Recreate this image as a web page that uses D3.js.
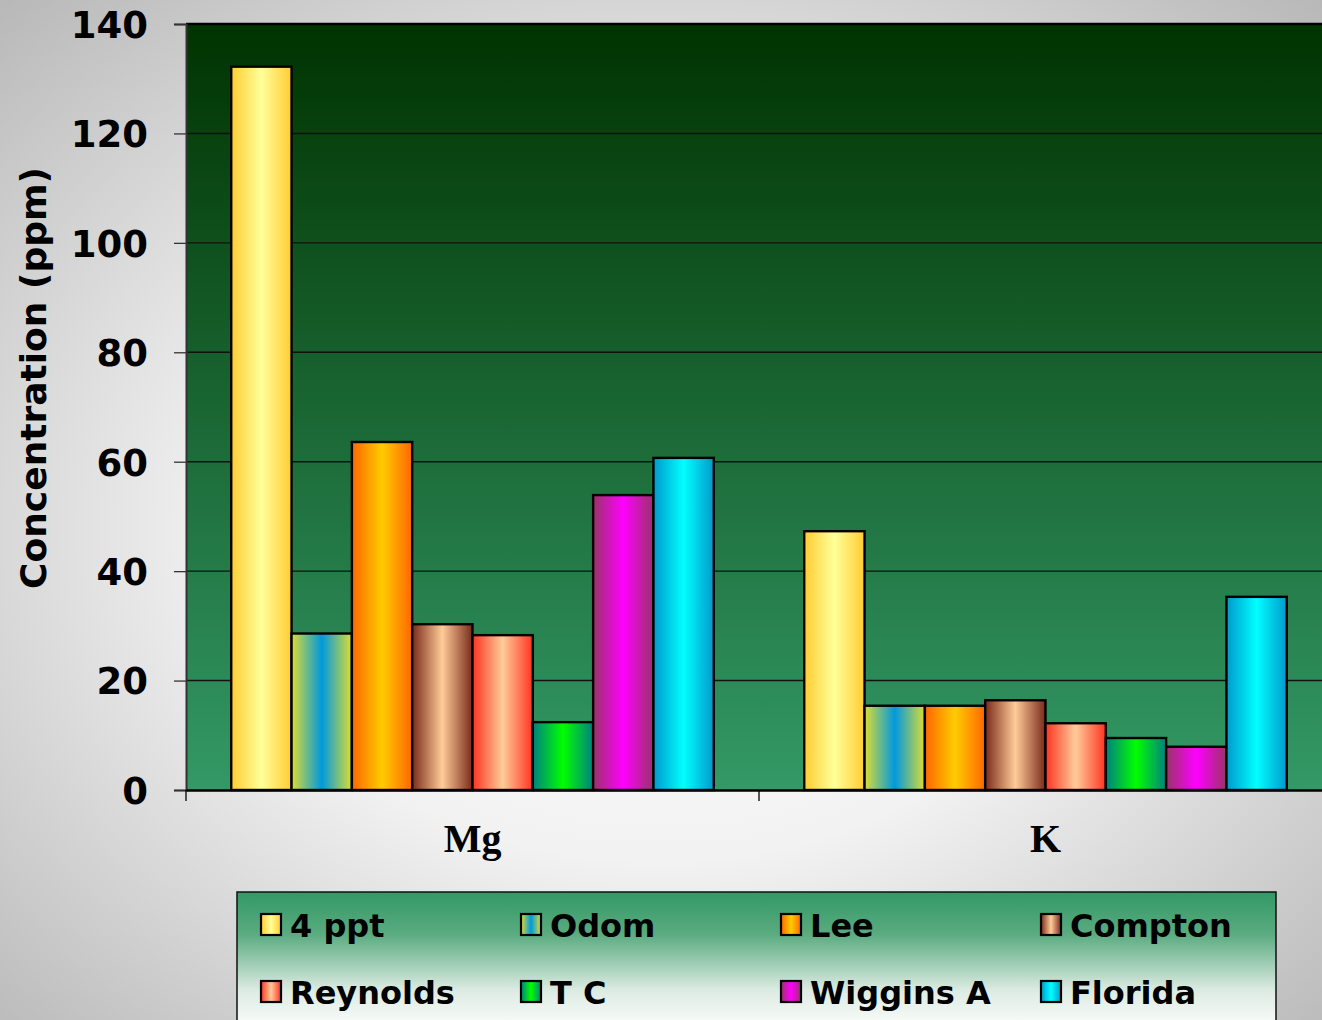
<!DOCTYPE html>
<html>
<head>
<meta charset="utf-8">
<script src="https://cdn.jsdelivr.net/npm/d3@7"></script>
<style>
  html, body { margin: 0; padding: 0; overflow: hidden; background: #fff; }
  svg { display: block; }
</style>
</head>
<body>
<div id="chart"></div>
<script>
// Nutrient concentrations by source water
const categories = ["Mg", "K"];
const seriesNames = ["4 ppt", "Odom", "Lee", "Compton", "Reynolds", "T C", "Wiggins A", "Florida"];
const mgValues = [132.2, 28.6, 63.6, 30.3, 28.3, 12.4, 53.9, 60.7];
const kValues  = [47.3, 15.4, 15.4, 16.4, 12.2, 9.5, 7.9, 35.3];
const yTicks = [0, 20, 40, 60, 80, 100, 120, 140];

// Edge / centre colours for each series' horizontal bar shading
const edgeColors   = ["#ffcc33", "#dddd33", "#ff6600", "#7a2a1a", "#ff3322", "#008080", "#993366", "#0099cc"];
const centerColors = ["#ffff99", "#0099dd", "#ffcc00", "#ffcc99", "#ffcc99", "#00ff00", "#ff00ff", "#00ffff"];

const W = 1322, H = 1020;
const plot = { left: 186, top: 24, right: 1332, bottom: 790 };

const svg = d3.select("#chart").append("svg")
  .attr("width", W).attr("height", H);
const defs = svg.append("defs");

// Page background: soft radial light-grey glow
const bg = defs.append("radialGradient").attr("id", "bgGrad")
  .attr("cx", "50%").attr("cy", "52%").attr("r", "72%");
bg.append("stop").attr("offset", "0%").attr("stop-color", "#ffffff");
bg.append("stop").attr("offset", "45%").attr("stop-color", "#f2f2f2");
bg.append("stop").attr("offset", "100%").attr("stop-color", "#b8b8b8");
svg.append("rect").attr("width", W).attr("height", H).attr("fill", "url(#bgGrad)");

// Plot area: dark green fading to sea green
const pg = defs.append("linearGradient").attr("id", "plotGrad")
  .attr("x1", 0).attr("y1", 0).attr("x2", 0).attr("y2", 1);
pg.append("stop").attr("offset", "0%").attr("stop-color", "#003300");
pg.append("stop").attr("offset", "100%").attr("stop-color", "#339966");

// Legend: sea green fading to white
const lg = defs.append("linearGradient").attr("id", "legGrad")
  .attr("x1", 0).attr("y1", 0).attr("x2", 0).attr("y2", 1);
lg.append("stop").attr("offset", "0%").attr("stop-color", "#339966");
lg.append("stop").attr("offset", "30%").attr("stop-color", "#5aab80");
lg.append("stop").attr("offset", "70%").attr("stop-color", "#dcebe2");
lg.append("stop").attr("offset", "100%").attr("stop-color", "#ffffff");

seriesNames.forEach((s, i) => {
  const g = defs.append("linearGradient").attr("id", "bar" + i)
    .attr("x1", 0).attr("y1", 0).attr("x2", 1).attr("y2", 0);
  g.append("stop").attr("offset", "0%").attr("stop-color", edgeColors[i]);
  g.append("stop").attr("offset", "50%").attr("stop-color", centerColors[i]);
  g.append("stop").attr("offset", "100%").attr("stop-color", edgeColors[i]);
});

const x0 = d3.scaleBand().domain(categories).range([plot.left, plot.right]).padding(0);
const x1 = d3.scaleBand().domain(seriesNames).range([0, x0.bandwidth()])
  .paddingInner(0).paddingOuter(0.75);
const y = d3.scaleLinear().domain([0, 140]).range([plot.bottom, plot.top]);

// Plot background
svg.append("rect")
  .attr("x", plot.left).attr("y", plot.top)
  .attr("width", plot.right - plot.left).attr("height", plot.bottom - plot.top)
  .attr("fill", "url(#plotGrad)");

// Gridlines
svg.append("g").selectAll("line").data(yTicks.filter(t => t > 0 && t < 140)).join("line")
  .attr("x1", plot.left).attr("x2", plot.right)
  .attr("y1", d => y(d)).attr("y2", d => y(d))
  .attr("stroke", "#111").attr("stroke-width", 1.4);

// Top border of plot area
svg.append("line")
  .attr("x1", plot.left).attr("x2", plot.right)
  .attr("y1", plot.top).attr("y2", plot.top)
  .attr("stroke", "#000").attr("stroke-width", 2.6);

// Bars
const table = categories.map((c, ci) => ({
  cat: c,
  vals: seriesNames.map((s, si) => ({ s, si, v: ci === 0 ? mgValues[si] : kValues[si] }))
}));

svg.append("g").selectAll("g").data(table).join("g")
  .attr("transform", d => `translate(${x0(d.cat)},0)`)
  .selectAll("rect").data(d => d.vals).join("rect")
  .attr("x", d => x1(d.s))
  .attr("y", d => y(d.v))
  .attr("width", x1.bandwidth())
  .attr("height", d => y(0) - y(d.v))
  .attr("fill", d => `url(#bar${d.si})`)
  .attr("stroke", "#000").attr("stroke-width", 2.4);

// Y axis
const yAxis = svg.append("g").attr("transform", `translate(${plot.left},0)`)
  .call(d3.axisLeft(y).tickValues(yTicks).tickSize(12).tickPadding(26));
yAxis.select(".domain").attr("stroke", "#333").attr("stroke-width", 2);
yAxis.selectAll(".tick line").attr("stroke", "#333").attr("stroke-width", 1.3);
yAxis.selectAll(".tick text")
  .attr("font-family", "DejaVu Sans, Verdana, sans-serif")
  .attr("font-weight", "bold").attr("font-size", 37).attr("fill", "#000")
  .attr("dy", "0.36em");

// X axis
const xAxis = svg.append("g").attr("transform", `translate(0,${plot.bottom})`)
  .call(d3.axisBottom(x0).tickSize(0).tickPadding(34));
xAxis.select(".domain").attr("stroke", "#000").attr("stroke-width", 2.6);
xAxis.selectAll(".tick text")
  .attr("font-family", "Liberation Serif, Times New Roman, serif")
  .attr("font-weight", "bold").attr("font-size", 40).attr("fill", "#000");
// Category separators
svg.append("g").selectAll("line").data(categories).join("line")
  .attr("x1", d => x0(d)).attr("x2", d => x0(d))
  .attr("y1", plot.bottom).attr("y2", plot.bottom + 11)
  .attr("stroke", "#000").attr("stroke-width", 1.3);

// Y axis title
svg.append("text")
  .attr("transform", "translate(46,378) rotate(-90)")
  .attr("text-anchor", "middle")
  .attr("font-family", "DejaVu Sans, Verdana, sans-serif")
  .attr("font-weight", "bold").attr("font-size", 36).attr("fill", "#000")
  .text("Concentration (ppm)");

// Legend
const legend = svg.append("g").attr("transform", "translate(237,892)");
legend.append("rect")
  .attr("width", 1039).attr("height", 140)
  .attr("fill", "url(#legGrad)")
  .attr("stroke", "#111").attr("stroke-width", 1.5);

const legItems = legend.selectAll("g").data(seriesNames).join("g")
  .attr("transform", (d, i) => `translate(${24 + (i % 4) * 260},${22 + Math.floor(i / 4) * 67})`);
legItems.append("rect")
  .attr("width", 20).attr("height", 21)
  .attr("fill", (d, i) => `url(#bar${i})`)
  .attr("stroke", "#000").attr("stroke-width", 2.2);
legItems.append("text")
  .attr("x", 29).attr("y", 23)
  .attr("font-family", "DejaVu Sans, Verdana, sans-serif")
  .attr("font-weight", "bold").attr("font-size", 32).attr("fill", "#000")
  .text(d => d);
</script>
</body>
</html>
